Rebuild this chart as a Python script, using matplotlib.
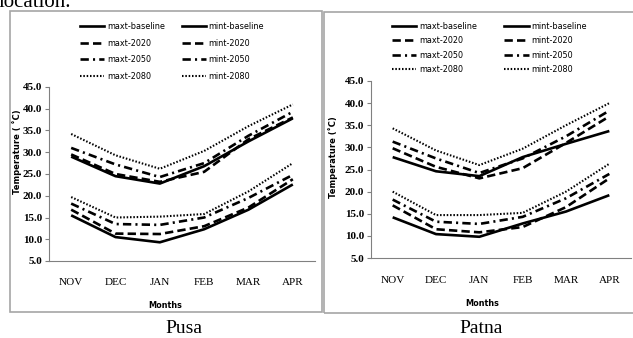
import matplotlib
matplotlib.use("Agg")
import matplotlib.pyplot as plt
from matplotlib.patches import Rectangle
from matplotlib.lines import Line2D

months = ["NOV", "DEC", "JAN", "FEB", "MAR", "APR"]
yticks = [5, 10, 15, 20, 25, 30, 35, 40, 45]

# Pusa
pusa_maxt_base = [29.0, 24.5, 22.8, 26.8, 32.5, 37.8]
pusa_maxt_2020 = [29.5, 25.0, 23.2, 25.5, 33.0, 38.0]
pusa_maxt_2050 = [31.0, 27.2, 24.3, 27.5, 33.8, 39.3]
pusa_maxt_2080 = [34.2, 29.3, 26.2, 30.3, 36.0, 41.0]
pusa_mint_base = [15.5, 10.5, 9.3, 12.3, 16.8, 22.6]
pusa_mint_2020 = [16.8, 11.3, 11.2, 13.0, 17.3, 23.8]
pusa_mint_2050 = [18.2, 13.5, 13.3, 15.0, 19.5, 24.8]
pusa_mint_2080 = [19.7, 15.0, 15.2, 15.8, 21.0, 27.5]

# Patna
patna_maxt_base = [27.8, 24.6, 23.5, 27.8, 30.8, 33.7]
patna_maxt_2020 = [29.8, 25.6, 23.0, 25.3, 31.0, 37.0]
patna_maxt_2050 = [31.3, 27.5, 24.2, 27.5, 32.5, 38.3]
patna_maxt_2080 = [34.3, 29.3, 26.0, 29.7, 35.0, 40.0]
patna_mint_base = [14.2, 10.4, 9.8, 12.8, 15.5, 19.2]
patna_mint_2020 = [16.9, 11.5, 10.8, 12.0, 16.5, 23.0]
patna_mint_2050 = [18.2, 13.2, 12.7, 14.3, 18.5, 24.0]
patna_mint_2080 = [20.0, 14.7, 14.7, 15.2, 20.0, 26.3]

plt.rcParams['lines.scale_dashes'] = False

W, H = 633, 338


def px(x, y):
    return x / W, 1 - y / H


styles = {
    "baseline": dict(ls="-", lw=1.9),
    "2020": dict(ls=(0, (6, 3)), lw=1.9),
    "2050": dict(ls=(0, (6, 3, 1.5, 3)), lw=1.9),
    "2080": dict(ls=(0, (1.1, 1.3)), lw=1.5),
}
keys = ["baseline", "2020", "2050", "2080"]


def panel(rect, maxt, mint, ylab, ylab_xy, xlab_xy, leg_xy, leg_gap, colsp, mpad):
    ax = fig.add_axes(rect)
    x = range(len(months))
    for k, m in zip(keys, maxt):
        ax.plot(x, m, color="black", solid_capstyle="butt", **styles[k])
    for k, m in zip(keys, mint):
        ax.plot(x, m, color="black", solid_capstyle="butt", **styles[k])
    ax.set_xlim(-0.5, 5.5)
    ax.set_ylim(5, 45)
    ax.set_yticks(yticks)
    ax.set_yticklabels(["%.1f" % v for v in yticks], family="Liberation Serif",
                       fontweight="bold", fontsize=8)
    ax.set_xticks(list(x))
    ax.set_xticklabels(months, family="Liberation Serif", fontsize=8)
    ax.tick_params(axis="x", length=0, pad=mpad)
    ax.tick_params(axis="y", length=3, pad=2, color="#808080")
    for s in ["top", "right"]:
        ax.spines[s].set_visible(False)
    for s in ["left", "bottom"]:
        ax.spines[s].set_color("#808080")
        ax.spines[s].set_linewidth(0.8)
    fig.text(*px(*ylab_xy), ylab, rotation=90, ha="center", va="center",
             family="DejaVu Sans", fontweight="bold", fontsize=6)
    fig.text(*px(*xlab_xy), "Months", ha="center", va="center",
             family="DejaVu Sans", fontweight="bold", fontsize=6.5,
             fontstretch="condensed")
    handles = []
    labels = []
    for pre in ["maxt", "mint"]:
        for k in keys:
            handles.append(Line2D([], [], color="black", **styles[k]))
            labels.append("%s-%s" % (pre, k))
    fig.legend(handles, labels, ncol=2, loc="upper left",
               bbox_to_anchor=px(*leg_xy), frameon=False,
               prop=dict(family="DejaVu Sans", stretch="condensed", size=6.5),
               handlelength=2.7, handletextpad=0.3, columnspacing=colsp,
               labelspacing=leg_gap, borderaxespad=0, borderpad=0)
    return ax


fig = plt.figure(figsize=(W / 100, H / 100), dpi=100)

# panel frames
fig.patches.append(Rectangle(px(10, 312), 312 / W, 301 / H, transform=fig.transFigure,
                             fill=False, edgecolor="#a6a6a6", lw=1.2))
fig.patches.append(Rectangle(px(324, 313), 320 / W, 301 / H, transform=fig.transFigure,
                             fill=False, edgecolor="#a6a6a6", lw=1.2))

l0, b0 = px(49, 261)
panel([l0, b0, (315 - 49) / W, (261 - 87) / H],
      [pusa_maxt_base, pusa_maxt_2020, pusa_maxt_2050, pusa_maxt_2080],
      [pusa_mint_base, pusa_mint_2020, pusa_mint_2050, pusa_mint_2080],
      "Temperature ( ˚C)", (17, 152), (165, 305), (80, 22), 0.85, 1.85, 12)

l1, b1 = px(371, 258)
panel([l1, b1, (631 - 371) / W, (258 - 81) / H],
      [patna_maxt_base, patna_maxt_2020, patna_maxt_2050, patna_maxt_2080],
      [patna_mint_base, patna_mint_2020, patna_mint_2050, patna_mint_2080],
      "Temperature (˚C)", (333, 157), (482, 303), (392, 22), 0.6, 3.05, 13)

fig.text(*px(-1, 7), "location.", ha="left", va="baseline",
         family="Liberation Serif", fontsize=15)
fig.text(*px(184, 333), "Pusa", ha="center", va="baseline",
         family="Liberation Serif", fontsize=14)
fig.text(*px(481, 333), "Patna", ha="center", va="baseline",
         family="Liberation Serif", fontsize=14)

fig.savefig("out.png", dpi=100)
